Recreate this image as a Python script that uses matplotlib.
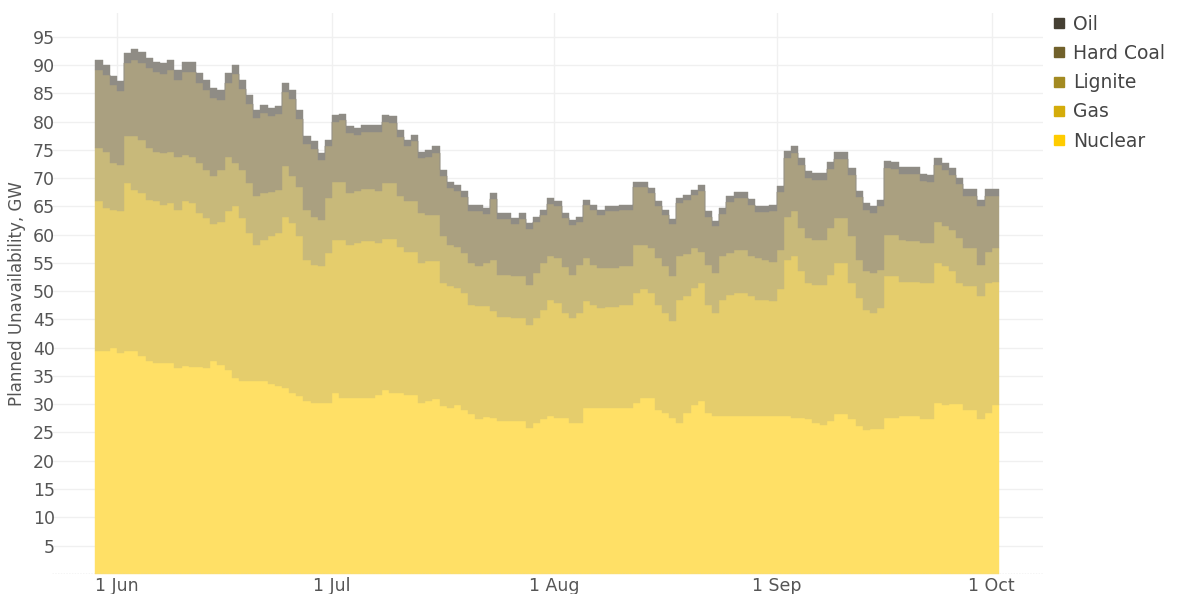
import matplotlib.pyplot as plt
import matplotlib.dates as mdates
from matplotlib.colors import to_rgb
from matplotlib.lines import Line2D
import numpy as np
import pandas as pd

dates = pd.date_range('2023-05-29', '2023-10-01', freq='D')

nuclear_top = [
    39.4, 39.4, 39.9, 39.1, 39.4, 39.4, 38.5, 37.6, 37.3, 37.3,
    37.3, 36.4, 36.7, 36.6, 36.6, 36.4, 37.6, 37.0, 36.1, 34.6,
    34.1, 34.1, 34.1, 34.1, 33.5, 33.2, 32.9, 32.0, 31.4, 30.5,
    30.2, 30.2, 30.2, 32.0, 31.1, 31.1, 31.1, 31.1, 31.1, 31.7,
    32.6, 32.0, 32.0, 31.7, 31.7, 30.2, 30.5, 30.9, 29.6, 29.3,
    29.9, 29.0, 28.2, 27.3, 27.8, 27.6, 27.0, 27.0, 27.0, 27.0,
    25.8, 26.7, 27.3, 27.9, 27.6, 27.6, 26.7, 26.7, 29.3, 29.3,
    29.3, 29.3, 29.3, 29.3, 29.3, 30.2, 31.1, 31.1, 29.0, 28.5,
    27.6, 26.7, 28.5, 29.9, 30.5, 28.5, 27.9, 27.9, 27.9, 27.9,
    27.9, 27.9, 27.9, 27.9, 27.9, 27.9, 27.9, 27.6, 27.6, 27.3,
    26.7, 26.4, 27.0, 28.2, 28.2, 27.3, 26.1, 25.5, 25.6, 25.6,
    27.6, 27.6, 27.9, 27.9, 27.9, 27.3, 27.3, 30.2, 29.9, 30.0,
    30.0, 29.0, 29.0, 27.3, 28.5, 29.9]

gas_top = [
    65.9, 64.7, 64.4, 64.1, 69.1, 67.9, 67.4, 66.2, 65.9, 65.3,
    65.6, 64.4, 65.9, 65.6, 63.8, 62.9, 61.8, 62.3, 64.1, 65.0,
    62.9, 60.3, 58.2, 59.1, 59.7, 60.3, 63.2, 62.0, 59.7, 55.6,
    54.7, 54.4, 56.8, 59.1, 59.1, 58.2, 58.5, 58.8, 58.8, 58.5,
    59.2, 59.2, 57.9, 57.0, 57.0, 55.0, 55.3, 55.3, 51.4, 50.9,
    50.6, 49.7, 47.6, 47.3, 47.3, 46.5, 45.5, 45.5, 45.3, 45.3,
    44.1, 45.3, 46.7, 48.5, 47.9, 46.1, 45.3, 46.1, 48.2, 47.6,
    47.0, 47.2, 47.2, 47.6, 47.6, 49.7, 50.3, 49.7, 47.6, 46.1,
    44.7, 48.5, 49.1, 50.6, 51.4, 47.6, 46.1, 48.5, 49.4, 49.7,
    49.7, 49.1, 48.5, 48.4, 48.2, 50.3, 55.6, 56.2, 53.5, 51.4,
    51.1, 51.1, 52.9, 55.0, 55.0, 51.4, 48.8, 46.7, 46.2, 47.0,
    52.6, 52.6, 51.7, 51.6, 51.6, 51.4, 51.4, 55.0, 54.4, 53.5,
    51.4, 50.9, 50.9, 49.1, 51.4, 51.7]

lignite_top = [
    75.3, 74.7, 72.7, 72.4, 77.4, 77.4, 76.8, 75.3, 74.7, 74.4,
    74.7, 73.8, 74.1, 73.8, 72.7, 71.5, 70.3, 71.5, 73.8, 72.7,
    71.5, 69.1, 66.8, 67.4, 67.6, 67.9, 72.1, 70.3, 68.5, 64.4,
    63.2, 62.6, 66.5, 69.4, 69.4, 67.4, 67.7, 68.1, 68.1, 67.7,
    69.1, 69.1, 66.8, 65.9, 65.9, 63.8, 63.5, 63.5, 59.7, 58.2,
    57.9, 56.8, 55.0, 54.4, 55.0, 55.5, 52.9, 52.9, 52.6, 52.6,
    51.1, 53.2, 55.0, 56.2, 55.8, 54.3, 52.9, 54.7, 55.9, 54.7,
    54.1, 54.1, 54.1, 54.4, 54.4, 58.2, 58.2, 57.6, 55.9, 54.4,
    52.6, 56.2, 56.5, 57.6, 57.0, 54.7, 53.2, 56.2, 56.8, 57.3,
    57.3, 56.2, 55.9, 55.6, 55.2, 57.3, 63.2, 64.1, 61.2, 59.4,
    59.1, 59.1, 61.2, 62.9, 62.9, 59.7, 55.6, 53.5, 53.2, 53.8,
    60.0, 60.0, 59.1, 58.8, 58.8, 58.5, 58.5, 62.3, 61.5, 60.9,
    59.4, 57.6, 57.6, 54.7, 57.0, 57.6]

total = [
    90.9, 90.0, 88.0, 87.1, 92.1, 92.9, 92.3, 91.2, 90.6, 90.3,
    90.9, 89.2, 90.6, 90.6, 88.6, 87.4, 86.0, 85.6, 88.6, 90.0,
    87.4, 84.7, 82.1, 83.0, 82.4, 82.7, 86.9, 85.6, 82.1, 77.5,
    76.5, 74.4, 76.8, 81.2, 81.4, 79.2, 78.9, 79.4, 79.4, 79.4,
    81.2, 81.0, 78.5, 76.8, 77.7, 74.7, 75.0, 75.6, 71.5, 69.4,
    68.8, 67.7, 65.3, 65.3, 64.7, 67.4, 63.8, 63.8, 62.9, 63.8,
    62.0, 63.2, 64.4, 66.5, 65.9, 63.8, 62.6, 63.2, 66.2, 65.3,
    64.4, 65.0, 65.0, 65.3, 65.3, 69.4, 69.4, 68.2, 65.9, 64.4,
    62.8, 66.5, 67.1, 67.9, 68.7, 64.1, 62.4, 64.7, 66.8, 67.5,
    67.5, 66.3, 65.0, 65.0, 65.2, 68.6, 74.8, 75.6, 73.6, 71.2,
    70.9, 70.9, 72.8, 74.6, 74.6, 71.8, 67.8, 65.6, 65.0, 66.2,
    73.0, 72.9, 72.0, 72.0, 72.0, 70.7, 70.6, 73.5, 72.7, 71.8,
    70.1, 68.0, 68.0, 66.2, 68.0, 68.0]

oil = [
    1.8, 1.8, 1.6, 1.6, 1.8, 2.0, 2.0, 1.8, 1.8, 1.8,
    1.8, 1.8, 1.8, 1.8, 1.8, 1.8, 1.8, 1.8, 1.8, 1.6,
    1.6, 1.6, 1.4, 1.4, 1.4, 1.4, 1.6, 1.6, 1.6, 1.4,
    1.4, 1.2, 1.2, 1.2, 1.2, 1.2, 1.2, 1.2, 1.2, 1.2,
    1.2, 1.2, 1.2, 1.2, 1.2, 1.2, 1.2, 1.2, 1.1, 1.1,
    1.1, 1.1, 1.1, 1.1, 1.1, 1.1, 1.0, 1.0, 1.0, 1.0,
    1.0, 1.0, 1.0, 1.0, 0.9, 0.9, 0.9, 0.9, 0.9, 0.9,
    0.9, 0.9, 0.9, 0.9, 0.9, 0.9, 0.9, 0.9, 0.9, 0.9,
    0.9, 0.9, 0.9, 0.9, 0.9, 0.9, 0.9, 1.0, 1.0, 1.0,
    1.0, 1.0, 1.0, 1.0, 1.0, 1.1, 1.2, 1.2, 1.2, 1.2,
    1.2, 1.2, 1.2, 1.2, 1.2, 1.2, 1.2, 1.2, 1.2, 1.2,
    1.2, 1.2, 1.2, 1.2, 1.2, 1.2, 1.2, 1.2, 1.2, 1.2,
    1.2, 1.2, 1.2, 1.2, 1.2, 1.2]

nuclear = np.array(nuclear_top)
gas = np.array(gas_top) - np.array(nuclear_top)
lignite = np.array(lignite_top) - np.array(gas_top)
hard_coal = np.array(total) - np.array(oil) - np.array(lignite_top)
oil = np.array(oil)

fuels = ['Nuclear', 'Gas', 'Lignite', 'Hard Coal', 'Oil']
colors = ['#FFCC00', '#D4AC0A', '#A38A21', '#71612B', '#454033']
series = [nuclear, gas, lignite, hard_coal, oil]

# extra edge so the last day gets its own step
x = dates.append(pd.DatetimeIndex([dates[-1] + pd.Timedelta(days=1)]))

fig = plt.figure(figsize=(11.78, 5.94), dpi=100)
ax = fig.add_axes([0.0441, 0.034, 0.8413, 0.944])

base = np.zeros(len(x))
for name, vals, c in zip(fuels, series, colors):
    v = np.append(vals, vals[-1])
    # 60% opacity on white, flattened so grid lines don't show through
    fill = tuple(1 - 0.6 * (1 - ch) for ch in to_rgb(c))
    ax.fill_between(x, base, base + v, step='post', color=fill,
                    linewidth=0.3, edgecolor=fill, zorder=2)
    base = base + v

ax.axhline(0, color='#cccccc', lw=1, ls=(0, (1, 1)), zorder=3)

start = mdates.date2num(pd.Timestamp('2023-06-01'))
ax.set_xlim(start - 9.07, start + 129.15)
ax.set_ylim(0, 99.2)
ax.set_yticks(range(5, 100, 5))
ax.set_xticks(pd.to_datetime(['2023-06-01', '2023-07-01', '2023-08-01',
                              '2023-09-01', '2023-10-01']))
ax.xaxis.set_major_formatter(mdates.DateFormatter('%-d %b'))

ax.grid(True, color='#f0f0f0', lw=1, zorder=0)
ax.set_axisbelow(True)
for s in ax.spines.values():
    s.set_visible(False)
ax.tick_params(axis='both', length=0, labelsize=12.5, labelcolor='#555555')
ax.tick_params(axis='y', pad=-2)
ax.tick_params(axis='x', pad=2)

ax.set_ylabel('Planned Unavailability, GW', fontsize=12, color='#555555')
ax.yaxis.set_label_coords(-0.026, 0.5)

handles = [Line2D([], [], marker='s', linestyle='', color=c, markersize=7)
           for c in colors[::-1]]
fig.legend(handles, fuels[::-1], loc='upper left',
           bbox_to_anchor=(1044 / 1178, 1 - 7 / 594), frameon=False,
           fontsize=13.5, labelcolor='#444444', handlelength=0.8,
           handletextpad=0.35, labelspacing=0.55, borderaxespad=0)

plt.savefig('out.png', dpi=100)
